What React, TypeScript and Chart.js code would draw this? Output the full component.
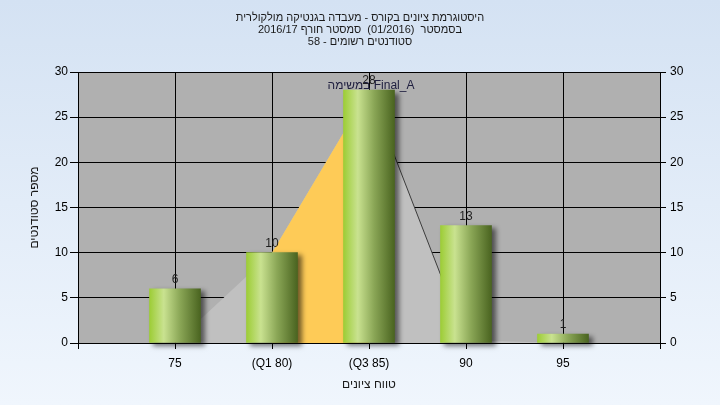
import React, { useEffect, useRef } from 'react';
import { Chart, registerables } from 'chart.js';

Chart.register(...registerables);

const titleLines = [
  'היסטוגרמת ציונים בקורס - מעבדה בגנטיקה מולקולרית',
  'בסמסטר  (01/2016)  סמסטר חורף 2016/17',
  'סטודנטים רשומים - 58',
];
const categories = ['', '75', '(Q1 80)', '(Q3 85)', '90', '95', ''];
const studentCounts = [null, 6, 10, 28, 13, 1, null];
const curveValues = [null, 0, 10, 28, 0.3, 0, null];
const quartileBand = [null, null, 10, 28, null, null, null];
const dropLine = [null, null, null, 28, 0.3, null, null];
const yMin = 0;
const yMax = 30;
const yStep = 5;
const yAxisTitle = 'מספר סטודנטים';
const xAxisTitle = 'טווח ציונים';
const annotationText = 'במשימה Final_A';
const annotationIndex = 3;

const FONT = '"Liberation Sans", Arial, sans-serif';
const BAR_W = 51;

const decorPlugin = {
  id: 'decor',
  beforeDraw(chart: any) {
    const { ctx, width, height, chartArea } = chart;
    ctx.save();
    const g = ctx.createLinearGradient(0, 0, 0, height);
    g.addColorStop(0, '#d4e2f3');
    g.addColorStop(1, '#f0f6fd');
    ctx.fillStyle = g;
    ctx.fillRect(0, 0, width, height);
    ctx.fillStyle = '#b0b0b0';
    ctx.fillRect(chartArea.left, chartArea.top, chartArea.right - chartArea.left, chartArea.bottom - chartArea.top);
    ctx.restore();
  },
  beforeDatasetDraw(chart: any, args: any) {
    if (args.meta.type === 'bar') {
      const ctx = chart.ctx;
      ctx.save();
      ctx.shadowColor = 'rgba(0,0,0,0.55)';
      ctx.shadowBlur = 5;
      ctx.shadowOffsetX = 4;
      ctx.shadowOffsetY = 3;
    }
  },
  afterDatasetDraw(chart: any, args: any) {
    if (args.meta.type === 'bar') {
      chart.ctx.restore();
    }
  },
  afterDraw(chart: any) {
    const { ctx, width, chartArea, scales } = chart;
    ctx.save();
    const meta = chart.getDatasetMeta(0);
    ctx.font = `12px ${FONT}`;
    ctx.fillStyle = '#1e1e1e';
    ctx.textAlign = 'center';
    ctx.textBaseline = 'alphabetic';
    meta.data.forEach((el: any, i: number) => {
      const v = studentCounts[i];
      if (v === null || v === undefined) return;
      ctx.fillText(String(v), el.x, el.y - 6);
    });
    ctx.fillStyle = '#202040';
    ctx.fillText(annotationText, scales.x.getPixelForValue(annotationIndex) + 2, scales.y.getPixelForValue(studentCounts[annotationIndex] as number) - 1);
    ctx.fillStyle = '#1a1a1a';
    ctx.font = `11px ${FONT}`;
    ctx.textBaseline = 'middle';
    (ctx as any).direction = 'rtl';
    titleLines.forEach((t, i) => ctx.fillText(t, width / 2, 18 + i * 12));
    (ctx as any).direction = 'ltr';
    ctx.font = `12px ${FONT}`;
    ctx.fillText(xAxisTitle, (chartArea.left + chartArea.right) / 2, 385);
    ctx.translate(35, (chartArea.top + chartArea.bottom) / 2);
    ctx.rotate(-Math.PI / 2);
    ctx.fillText(yAxisTitle, 0, 0);
    ctx.restore();
  },
};

function barGradient(c: any) {
  const chart = c.chart;
  if (!chart.chartArea || c.type !== 'data') return '#a6cf48';
  const cx = chart.scales.x.getPixelForValue(c.dataIndex);
  const g = chart.ctx.createLinearGradient(cx - BAR_W / 2, 0, cx + BAR_W / 2, 0);
  g.addColorStop(0, '#9dcd36');
  g.addColorStop(0.28, '#c9e290');
  g.addColorStop(0.6, '#8aa656');
  g.addColorStop(1, '#4a6420');
  return g;
}

export default function App() {
  const ref = useRef<HTMLCanvasElement | null>(null);
  useEffect(() => {
    if (!ref.current) return;
    const chart = new Chart(ref.current, {
      type: 'bar',
      data: {
        labels: categories,
        datasets: [
          {
            type: 'bar',
            data: studentCounts as any,
            backgroundColor: barGradient as any,
            borderWidth: 0,
            barThickness: BAR_W,
            clip: false as any,
            order: 0,
            yAxisID: 'y',
          },
          {
            type: 'line',
            data: dropLine as any,
            borderColor: '#3c3c3c',
            borderWidth: 1,
            pointRadius: 0,
            fill: false,
            order: 1,
            yAxisID: 'y',
          },
          {
            type: 'line',
            data: quartileBand as any,
            borderWidth: 0,
            borderColor: 'rgba(0,0,0,0)',
            backgroundColor: '#fecb57',
            pointRadius: 0,
            fill: 'origin',
            order: 2,
            yAxisID: 'y',
          },
          {
            type: 'line',
            data: curveValues as any,
            borderWidth: 0,
            borderColor: 'rgba(0,0,0,0)',
            backgroundColor: '#c0c0c0',
            pointRadius: 0,
            fill: 'origin',
            order: 3,
            yAxisID: 'y',
          },
        ],
      },
      options: {
        animation: false,
        responsive: true,
        maintainAspectRatio: false,
        events: [],
        layout: { padding: { top: 72, left: 0, right: 0, bottom: 0 } },
        plugins: { legend: { display: false }, tooltip: { enabled: false }, title: { display: false } },
        scales: {
          x: {
            type: 'category',
            offset: false,
            grid: { offset: false, color: '#000', lineWidth: 1, tickLength: 6, tickColor: '#000' },
            border: { color: '#000' },
            ticks: { color: '#000', font: { family: FONT, size: 12 }, padding: 7, autoSkip: false, maxRotation: 0 },
            afterFit: (s: any) => { s.height = 62; },
          },
          y: {
            position: 'left',
            min: yMin,
            max: yMax,
            grid: { color: '#000', lineWidth: 1, tickLength: 8, tickColor: '#000' },
            border: { color: '#000' },
            ticks: { stepSize: yStep, color: '#000', font: { family: FONT, size: 12 }, padding: 2 },
            afterFit: (s: any) => { s.width = 78; },
          },
          y2: {
            position: 'right',
            min: yMin,
            max: yMax,
            grid: { display: true, drawOnChartArea: false, tickLength: 6, tickColor: '#000' },
            border: { color: '#000' },
            ticks: { stepSize: yStep, color: '#000', font: { family: FONT, size: 12 }, padding: 4 },
            afterFit: (s: any) => { s.width = 60; },
          },
        },
      },
      plugins: [decorPlugin],
    });
    return () => chart.destroy();
  }, []);
  return (
    <div style={{ position: 'fixed', left: 0, top: 0, width: 720, height: 405 }}>
      <canvas ref={ref} />
    </div>
  );
}
